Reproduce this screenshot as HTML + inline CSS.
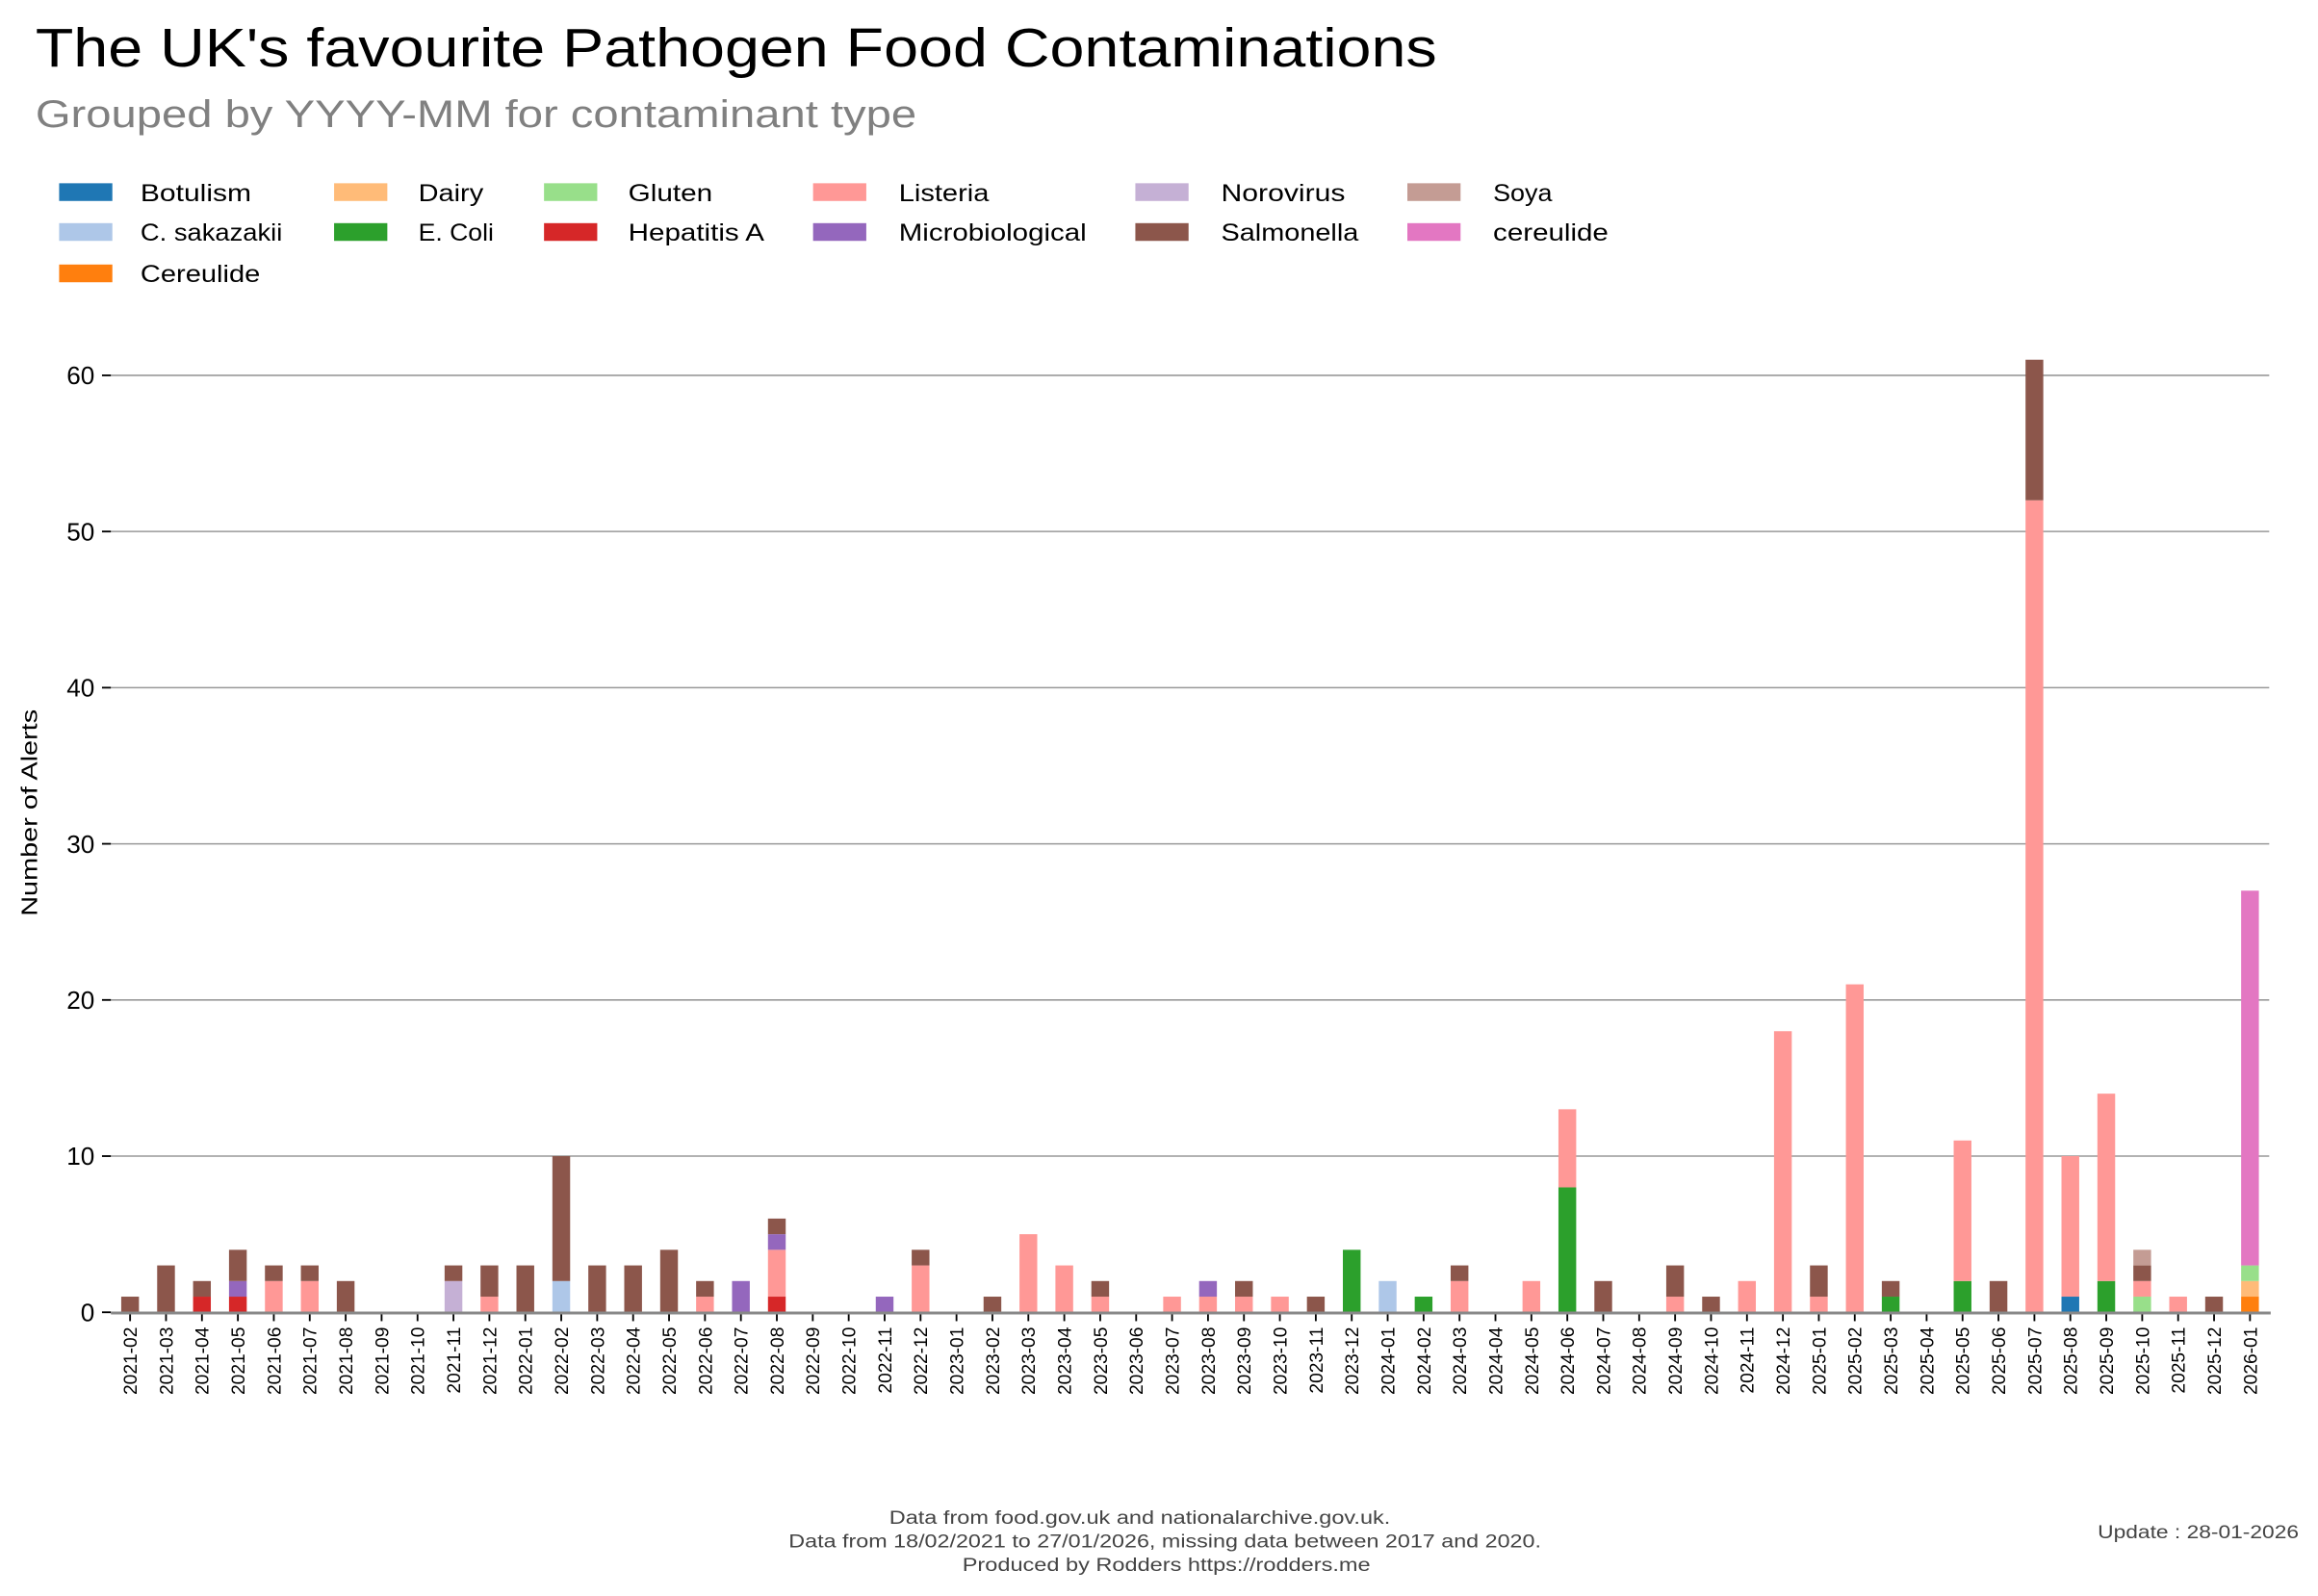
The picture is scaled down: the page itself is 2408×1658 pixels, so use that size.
<!DOCTYPE html>
<html><head><meta charset="utf-8"><style>
html,body{margin:0;padding:0;background:#fff;}
svg{display:block;}
text{font-family:"Liberation Sans",sans-serif;}
</style></head><body>
<svg id="c" xmlns="http://www.w3.org/2000/svg" width="2408" height="1658" viewBox="0 0 1568 1080" preserveAspectRatio="none">
<rect width="1568" height="1080" fill="#fff"/>
<text x="24" y="45" font-size="37" fill="#000" textLength="948" lengthAdjust="spacingAndGlyphs">The UK's favourite Pathogen Food Contaminations</text>
<text x="24" y="86" font-size="26" fill="#808080" textLength="596" lengthAdjust="spacingAndGlyphs">Grouped by YYYY-MM for contaminant type</text>
<g id="leg"></g>
<g id="plot"></g>
<text transform="translate(25,550) rotate(-90)" font-size="15" text-anchor="middle" fill="#000" textLength="140" lengthAdjust="spacingAndGlyphs">Number of Alerts</text>
<g font-size="12.5" fill="#444" text-anchor="middle">
<text x="771" y="1031" textLength="339" lengthAdjust="spacingAndGlyphs">Data from food.gov.uk and nationalarchive.gov.uk.</text>
<text x="788" y="1047" textLength="509" lengthAdjust="spacingAndGlyphs">Data from 18/02/2021 to 27/01/2026, missing data between 2017 and 2020.</text>
<text x="789" y="1063" textLength="276" lengthAdjust="spacingAndGlyphs">Produced by Rodders https://rodders.me</text>
</g>
<text x="1419" y="1041" font-size="12.5" fill="#444" textLength="136" lengthAdjust="spacingAndGlyphs">Update : 28-01-2026</text>
</svg>
<script>
var NS="http://www.w3.org/2000/svg";
function el(p,t,a,txt){var e=document.createElementNS(NS,t);for(var k in a)e.setAttribute(k,a[k]);if(txt!=null)e.textContent=txt;p.appendChild(e);return e;}
var C={B:"#1f77b4",Cs:"#aec7e8",Ce:"#ff7f0e",D:"#ffbb78",E:"#2ca02c",G:"#98df8a",H:"#d62728",L:"#ff9896",M:"#9467bd",N:"#c5b0d5",S:"#8c564b",So:"#c49c94",c:"#e377c2"};
var order=["B","Cs","Ce","D","E","G","H","L","M","N","S","So","c"];
var leg=document.getElementById("leg");
var L=[["B","Botulism",40,95,130,75],["Cs","C. sakazakii",40,95,157,96],["Ce","Cereulide",40,95,185,81],
["D","Dairy",226,283,130,44],["E","E. Coli",226,283,157,51],["G","Gluten",368,425,130,57],["H","Hepatitis A",368,425,157,92],
["L","Listeria",550,608,130,61],["M","Microbiological",550,608,157,127],["N","Norovirus",768,826,130,84],["S","Salmonella",768,826,157,93],
["So","Soya",952,1010,130,40],["c","cereulide",952,1010,157,78]];
L.forEach(function(l){el(leg,"rect",{x:l[2],y:l[4]-6,width:36,height:12,fill:C[l[0]]});el(leg,"text",{x:l[3],y:l[4]+6,"font-size":16,fill:"#000",textLength:l[5],lengthAdjust:"spacingAndGlyphs"},l[1]);});
var plot=document.getElementById("plot");
var y0=888,u=(888-254)/60;
[10,20,30,40,50,60].forEach(function(v){var y=y0-v*u;el(plot,"line",{x1:75,x2:1535,y1:y,y2:y,stroke:"#999","stroke-width":1});});
[0,10,20,30,40,50,60].forEach(function(v){var y=y0-v*u;el(plot,"line",{x1:69,x2:75,y1:y,y2:y,stroke:"#000","stroke-width":1.2});el(plot,"text",{x:64,y:y+6,"font-size":17,"text-anchor":"end",fill:"#000"},String(v));});
var D=[{S:1},{S:3},{H:1,S:1},{H:1,M:1,S:2},{L:2,S:1},{L:2,S:1},{S:2},{},{},{N:2,S:1},{L:1,S:2},{S:3},{Cs:2,S:8},{S:3},{S:3},{S:4},{L:1,S:1},{M:2},{H:1,L:3,M:1,S:1},{},{},{M:1},{L:3,S:1},{},{S:1},{L:5},{L:3},{L:1,S:1},{},{L:1},{L:1,M:1},{L:1,S:1},{L:1},{S:1},{E:4},{Cs:2},{E:1},{L:2,S:1},{},{L:2},{E:8,L:5},{S:2},{},{L:1,S:2},{S:1},{L:2},{L:18},{L:1,S:2},{L:21},{E:1,S:1},{},{E:2,L:9},{S:2},{L:52,S:9},{B:1,L:9},{E:2,L:12},{G:1,L:1,S:1,So:1},{L:1},{S:1},{Ce:1,D:1,G:1,c:24}];
var sp=(1522-88)/59;
D.forEach(function(d,i){var x=88+i*sp;var acc=0;
order.forEach(function(k){if(d[k]){var h=d[k]*u;el(plot,"rect",{x:x-6,y:y0-(acc+d[k])*u,width:12,height:h,fill:C[k]});acc+=d[k];}});
el(plot,"line",{x1:x,x2:x,y1:y0,y2:y0+6,stroke:"#000","stroke-width":1.2});
var yr=2021+Math.floor((i+1)/12),m=((i+1)%12)+1;var lab=yr+"-"+(m<10?"0"+m:m);
el(plot,"text",{transform:"translate("+(x+4.5)+","+(y0+10)+") rotate(-90)","font-size":12.5,"text-anchor":"end",fill:"#000"},lab);
});
el(plot,"line",{x1:75,x2:1536,y1:y0+0.5,y2:y0+0.5,stroke:"#888","stroke-width":2});
</script>
</body></html>
